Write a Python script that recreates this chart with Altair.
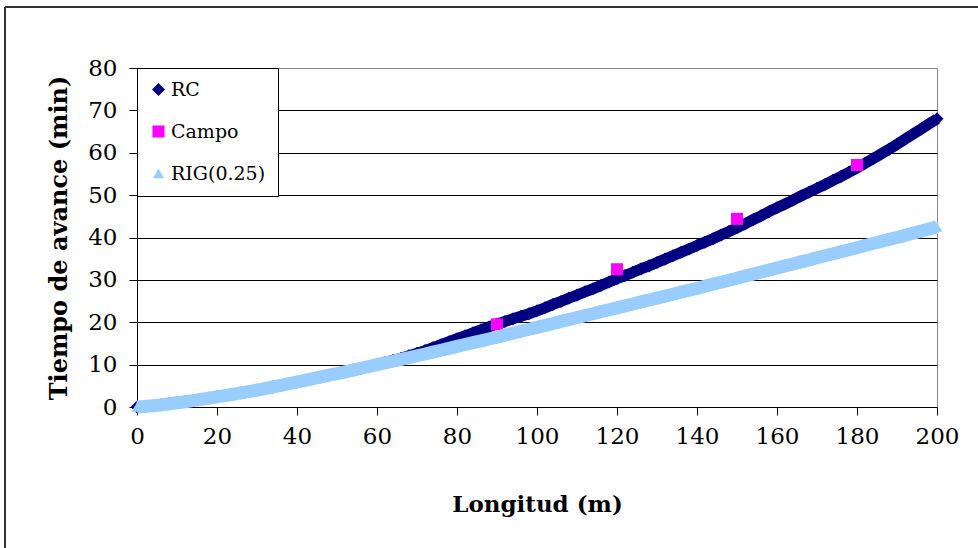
import altair as alt
import pandas as pd

# Longitud (m) sampled along the simulated curves
longitud = list(range(0, 201, 2))

rc = [0.0, 0.15, 0.3, 0.5, 0.75, 1.0, 1.25, 1.5, 1.8, 2.1,
      2.4, 2.7, 3.0, 3.35, 3.65, 4.0, 4.35, 4.75, 5.1, 5.5,
      5.9, 6.3, 6.7, 7.1, 7.5, 7.9, 8.3, 8.7, 9.15, 9.55,
      10.1, 10.5, 11.0, 11.5, 12.1, 12.7, 13.3, 14.0, 14.7, 15.4,
      16.1, 16.8, 17.5, 18.2, 18.9, 19.6, 20.2, 20.8, 21.4, 22.0,
      22.7, 23.4, 24.2, 24.9, 25.7, 26.4, 27.2, 27.9, 28.7, 29.5,
      30.3, 31.0, 31.8, 32.6, 33.3, 34.1, 34.9, 35.7, 36.5, 37.3,
      38.1, 38.9, 39.7, 40.6, 41.4, 42.3, 43.2, 44.2, 45.1, 46.1,
      47.0, 47.9, 48.8, 49.8, 50.7, 51.6, 52.5, 53.5, 54.4, 55.4,
      56.4, 57.5, 58.6, 59.7, 60.8, 62.0, 63.2, 64.4, 65.6, 66.8,
      68.0]

rig = [0.0, 0.15, 0.3, 0.5, 0.75, 1.0, 1.25, 1.5, 1.8, 2.1,
       2.4, 2.7, 3.0, 3.35, 3.65, 4.0, 4.35, 4.75, 5.1, 5.5,
       5.9, 6.3, 6.7, 7.1, 7.5, 7.9, 8.3, 8.7, 9.15, 9.55,
       10.0, 10.4, 10.8, 11.25, 11.65, 12.1, 12.5, 12.95, 13.4, 13.85,
       14.3, 14.75, 15.2, 15.6, 16.05, 16.5, 16.95, 17.4, 17.9, 18.35,
       18.8, 19.25, 19.7, 20.2, 20.65, 21.1, 21.55, 22.0, 22.5, 22.95,
       23.4, 23.85, 24.3, 24.8, 25.25, 25.7, 26.15, 26.6, 27.1, 27.55,
       28.0, 28.5, 29.0, 29.45, 29.9, 30.4, 30.9, 31.35, 31.85, 32.3,
       32.8, 33.3, 33.75, 34.25, 34.7, 35.2, 35.7, 36.15, 36.65, 37.1,
       37.6, 38.1, 38.6, 39.05, 39.55, 40.0, 40.5, 41.0, 41.5, 42.0,
       42.5]

campo_x = [90, 120, 150, 180]
campo_y = [19.5, 32.5, 44.4, 57.1]

series = ["RC", "Campo", "RIG(0.25)"]
colors = ["#000080", "#FF00FF", "#99CCFF"]
shapes = ["diamond", "square", "triangle-up"]
sizes = [170, 121, 240]

x_ticks = list(range(0, 201, 20))
y_ticks = list(range(0, 81, 10))

rows = []
for d, v in zip(longitud, rc):
    rows.append({"Longitud": d, "Tiempo": v, "Serie": "RC"})
for d, v in zip(campo_x, campo_y):
    rows.append({"Longitud": d, "Tiempo": v, "Serie": "Campo"})
for d, v in zip(longitud, rig):
    rows.append({"Longitud": d, "Tiempo": v, "Serie": "RIG(0.25)"})
df = pd.DataFrame(rows)

FONT = "DejaVu Serif"

x_enc = alt.X("Longitud:Q",
              scale=alt.Scale(domain=[0, 200], nice=False),
              axis=alt.Axis(title="Longitud (m)", values=x_ticks, grid=False,
                            domainColor="black", tickColor="black", tickSize=8,
                            labelFont=FONT, labelFontSize=23, labelColor="black",
                            labelPadding=10, labelFlush=False,
                            titleFont=FONT, titleFontSize=23, titleFontWeight="bold",
                            titleColor="black", titlePadding=45))
y_enc = alt.Y("Tiempo:Q",
              scale=alt.Scale(domain=[0, 80], nice=False),
              axis=alt.Axis(title="Tiempo de avance (min)", values=y_ticks, grid=True,
                            gridColor={"condition": {"test": "datum.value === 80", "value": "#888888"},
                                       "value": "#000000"},
                            gridWidth=1,
                            domainColor="black", tickColor="black", tickSize=8,
                            labelFont=FONT, labelFontSize=23, labelColor="black",
                            labelPadding=12, labelFlush=False,
                            titleFont=FONT, titleFontSize=24, titleFontWeight="bold",
                            titleColor="black", titlePadding=16))

legend = alt.Legend(
    title=None, orient="none", legendX=0, legendY=0,
    padding=12, rowPadding=22, symbolSize=190, symbolStrokeWidth=0,
    labelFont=FONT, labelFontSize=19, labelColor="black", labelOffset=3,
    strokeColor="black", fillColor="white", cornerRadius=0,
)

points = alt.Chart(df).mark_point(filled=True, opacity=1, strokeWidth=0).encode(
    x=x_enc, y=y_enc,
    color=alt.Color("Serie:N", scale=alt.Scale(domain=series, range=colors), legend=legend),
    shape=alt.Shape("Serie:N", scale=alt.Scale(domain=series, range=shapes), legend=legend),
    size=alt.Size("Serie:N", scale=alt.Scale(domain=series, range=sizes), legend=None),
)

rc_band = alt.Chart(df).transform_filter(alt.datum.Serie == "RC").mark_line(
    color="#000080", strokeWidth=11, strokeCap="butt").encode(
    x="Longitud:Q", y="Tiempo:Q")
rig_band = alt.Chart(df).transform_filter(alt.datum.Serie == "RIG(0.25)").mark_line(
    color="#99CCFF", strokeWidth=13, strokeCap="butt").encode(
    x="Longitud:Q", y="Tiempo:Q")

frame_df = pd.DataFrame({"k": [0]})
frame_top = alt.Chart(frame_df).mark_rule(color="#333333", strokeWidth=2).encode(
    x=alt.value(-132), x2=alt.value(845), y=alt.value(-61))
frame_left = alt.Chart(frame_df).mark_rule(color="#333333", strokeWidth=2).encode(
    x=alt.value(-132), y=alt.value(-61), y2=alt.value(485))

chart = alt.layer(frame_top, frame_left, rc_band, points, rig_band).properties(
    width=800, height=339,
    autosize=alt.AutoSizeParams(type="none"),
    padding={"left": 137, "top": 68, "right": 41, "bottom": 141},
    background="white",
).configure_view(stroke="#888888", strokeWidth=1)

chart.save("out.html", embed_options={"renderer": "svg", "actions": False})
